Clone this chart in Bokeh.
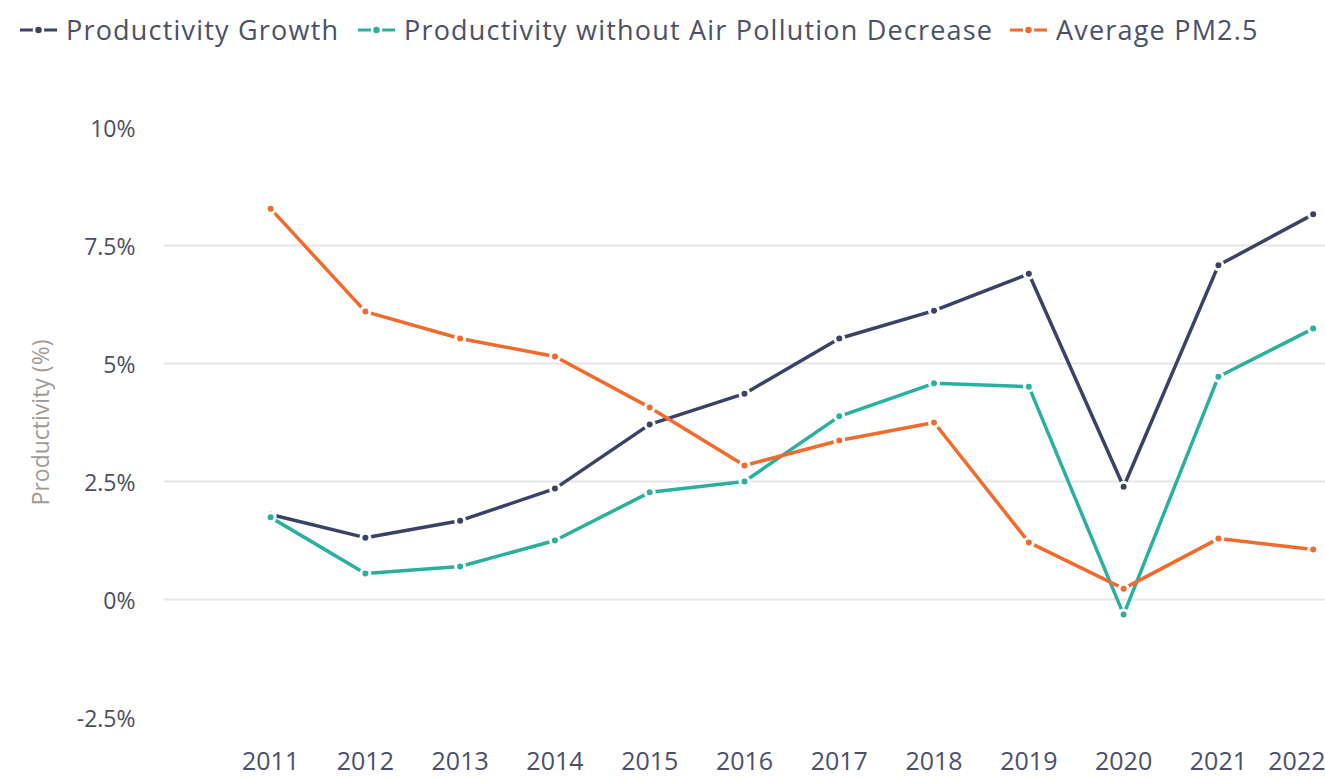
from bokeh.plotting import figure
from bokeh.models import Range1d, FixedTicker, CustomJSTickFormatter, Div
from bokeh.layouts import column
from bokeh.embed import file_html
from bokeh.resources import INLINE

years = [2011, 2012, 2013, 2014, 2015, 2016, 2017, 2018, 2019, 2020, 2021, 2022]
productivity_growth = [1.80, 1.31, 1.67, 2.35, 3.71, 4.36, 5.53, 6.12, 6.90, 2.39, 7.08, 8.16]
productivity_without_decrease = [1.74, 0.55, 0.70, 1.25, 2.27, 2.50, 3.88, 4.58, 4.51, -0.32, 4.72, 5.74]
average_pm25 = [8.28, 6.10, 5.53, 5.15, 4.07, 2.84, 3.37, 3.75, 1.21, 0.23, 1.29, 1.06]
y_ticks = [-2.5, 0, 2.5, 5, 7.5, 10]
series_names = ["Productivity Growth", "Productivity without Air Pollution Decrease", "Average PM2.5"]
colors = ["#3c4266", "#2bb0a0", "#f26a2c"]

FONT = "Open Sans"
TOP_H = 60
LEFT = 163

# --- legend strip (HTML, so it can start left of the plot frame) ---
icon_lefts = [20, 358, 1010]
parts = []
for name, c, x0 in zip(series_names, colors, icon_lefts):
    icon = (f'<svg width="37" height="14" style="position:absolute;left:{x0}px;top:23px">'
            f'<line x1="0" y1="7" x2="37" y2="7" stroke="{c}" stroke-width="3"/>'
            f'<circle cx="18.5" cy="7" r="4.5" fill="{c}" stroke="white" stroke-width="2.5"/></svg>')
    label = (f'<span style="position:absolute;left:{x0 + 46}px;top:0;line-height:60px;'
             f'letter-spacing:1.2px;white-space:nowrap">{name}</span>')
    parts.append(icon + label)
legend_html = (f'<div style="position:relative;width:1325px;height:{TOP_H}px;'
               f"font-family:'{FONT}';font-size:27px;color:#4b5068\">" + "".join(parts) + "</div>")
top = Div(text=legend_html, width=1325, height=TOP_H, styles={"margin": "0", "padding": "0"})

# --- main chart ---
p = figure(width=1325, height=778 - TOP_H, output_backend="svg", toolbar_location=None,
           x_range=Range1d(2009.87, 2022.13), y_range=Range1d(-2.5, 10),
           min_border_left=LEFT, min_border_right=0, min_border_top=127 - TOP_H, min_border_bottom=61)
p.outline_line_color = None
p.background_fill_color = "white"
p.border_fill_color = "white"

p.xaxis.ticker = FixedTicker(ticks=years)
p.xaxis.axis_line_color = None
p.xaxis.major_tick_line_color = None
p.xaxis.minor_tick_line_color = None
p.xaxis.major_label_standoff = 28
p.xaxis.major_label_text_font = FONT
p.xaxis.major_label_text_font_size = "25px"
p.xaxis.major_label_text_color = "#4b5068"

p.yaxis.ticker = FixedTicker(ticks=y_ticks)
p.yaxis.formatter = CustomJSTickFormatter(code="return tick + '%';")
p.yaxis.axis_line_color = None
p.yaxis.major_tick_line_color = None
p.yaxis.minor_tick_line_color = None
p.yaxis.major_label_standoff = 22
p.yaxis.major_label_text_font = FONT
p.yaxis.major_label_text_font_size = "23px"
p.yaxis.major_label_text_color = "#4b4f60"
p.yaxis.axis_label = "Productivity (%)"
p.yaxis.axis_label_text_font = FONT
p.yaxis.axis_label_text_font_style = "normal"
p.yaxis.axis_label_text_font_size = "23px"
p.yaxis.axis_label_text_color = "#a09a96"
p.yaxis.axis_label_standoff = 18

p.xgrid.grid_line_color = None
p.ygrid.grid_line_color = "#e6e6e6"
p.ygrid.grid_line_width = 2

for vals, c in zip([productivity_growth, productivity_without_decrease, average_pm25], colors):
    p.line(years, vals, line_color=c, line_width=3.5)
    p.scatter(years, vals, size=9, fill_color=c, line_color="white", line_width=3)

layout = column(top, p, spacing=0)
open("out.html", "w").write(file_html(layout, INLINE))
